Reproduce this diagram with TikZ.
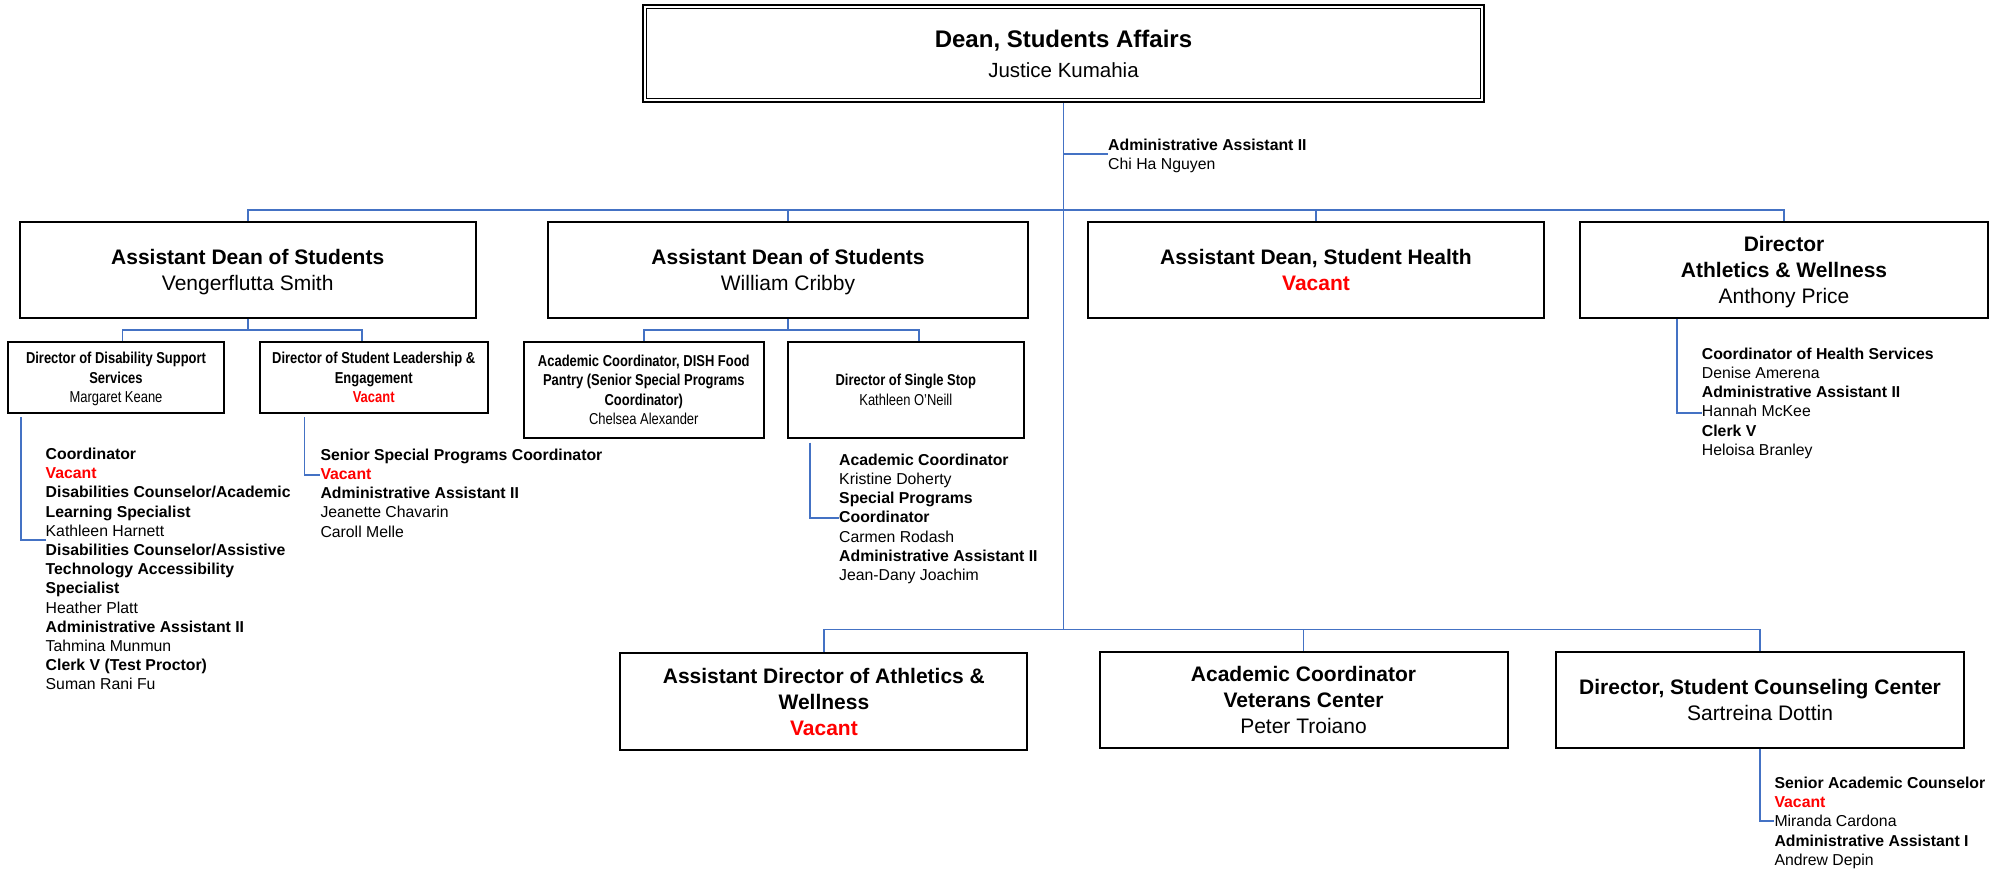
\documentclass[tikz,border=0pt]{standalone}
\usepackage{fontspec}
\setmainfont{Liberation Sans}
\newfontfamily\narrowfont[FakeStretch=0.82]{Liberation Sans}
\definecolor{conncol}{HTML}{4472C4}
\definecolor{vred}{HTML}{FF0000}
\tikzset{
 box/.style={draw=black, line width=2pt, rectangle, align=center, inner sep=0pt, font={\fontsize{21}{26}\selectfont}},
 smallbox/.style={draw=black, line width=2pt, rectangle, align=center, inner sep=0pt, font={\narrowfont\fontsize{15.8}{19.3}\selectfont}},
 stafflist/.style={anchor=north west, align=left, inner sep=0pt, font={\fontsize{15.8}{19.2}\selectfont}},
 conn/.style={draw=conncol, line width=1.7pt},
}
\newcommand{\vac}{\textcolor{vred}{\textbf{Vacant}}}
\begin{document}
\begin{tikzpicture}[x=1pt,y=-1pt]
\useasboundingbox[fill=white] (0,0) rectangle (2007,871);

% Dean
\node[box, line width=1.8pt, minimum width=841pt, minimum height=97pt, font={\fontsize{24}{30}\selectfont}] (dean) at (1063.5,53.5)
 {\textbf{Dean, Students Affairs}\\{\fontsize{20.5}{30}\selectfont Justice Kumahia}};
\draw[line width=1pt] ([shift={(4.5,4.5)}]dean.north west) rectangle ([shift={(-4.5,-4.5)}]dean.south east);

% Row 1
\node[box, minimum width=456pt, minimum height=96pt] (A1) at (247.7,269.7)
 {\textbf{Assistant Dean of Students}\\\smash{Vengerflutta Smith}};
\node[box, minimum width=480pt, minimum height=96pt] (A2) at (788,269.7)
 {\textbf{Assistant Dean of Students}\\\smash{William Cribby}};
\node[box, minimum width=456pt, minimum height=96pt] (A3) at (1316,269.7)
 {\textbf{Assistant Dean, Student Health}\\\vac};
\node[box, minimum width=408pt, minimum height=96pt] (A4) at (1784,269.7)
 {\textbf{Director}\\\textbf{Athletics \& Wellness}\\\smash{Anthony Price}};

% Row 2 small boxes
\node[smallbox, minimum width=216pt, minimum height=71.3pt] (B1) at (116,377.4)
 {\textbf{Director of Disability Support}\\\textbf{Services}\\\smash{Margaret Keane}};
\node[smallbox, minimum width=227.7pt, minimum height=71.3pt] (B2) at (373.7,377.4)
 {\textbf{Director of Student Leadership \&}\\\textbf{Engagement}\\\vac};
\node[smallbox, minimum width=240.4pt, minimum height=95.7pt] (C1) at (643.8,389.9)
 {\textbf{Academic Coordinator, DISH Food}\\\textbf{Pantry (Senior Special Programs}\\\textbf{Coordinator)}\\Chelsea Alexander};
\node[smallbox, minimum width=235.6pt, minimum height=95.7pt] (C2) at (905.8,389.9)
 {\textbf{Director of Single Stop}\\Kathleen O’Neill};

% Bottom row
\node[box, minimum width=407pt, minimum height=96.7pt] (D1) at (823.9,701.7)
 {\textbf{Assistant Director of Athletics \&}\\\textbf{Wellness}\\\vac};
\node[box, minimum width=408pt, minimum height=96pt] (D2) at (1303.5,699.7)
 {\textbf{Academic Coordinator}\\\textbf{Veterans Center}\\Peter Troiano};
\node[box, minimum width=408.6pt, minimum height=96pt] (D3) at (1760,699.7)
 {\textbf{Director, Student Counseling Center}\\Sartreina Dottin};

% Staff lists
\node[stafflist] (L0) at (1108,136.6)
 {\strut\textbf{Administrative Assistant II}\\Chi Ha Nguyen};
\node[stafflist] (L1) at (45.5,445.9)
 {\strut\textbf{Coordinator}\\\vac\\\textbf{Disabilities Counselor/Academic}\\\textbf{Learning Specialist}\\Kathleen Harnett\\\textbf{Disabilities Counselor/Assistive}\\\textbf{Technology Accessibility}\\\textbf{Specialist}\\Heather Platt\\\textbf{Administrative Assistant II}\\Tahmina Munmun\\\textbf{Clerk V (Test Proctor)}\\Suman Rani Fu};
\node[stafflist] (L2) at (320.3,446.6)
 {\strut\textbf{Senior Special Programs Coordinator}\\\vac\\\textbf{Administrative Assistant II}\\Jeanette Chavarin\\Caroll Melle};
\node[stafflist] (L3) at (839,451.6)
 {\strut\textbf{Academic Coordinator}\\Kristine Doherty\\\textbf{Special Programs}\\\textbf{Coordinator}\\Carmen Rodash\\\textbf{Administrative Assistant II}\\Jean-Dany Joachim};
\node[stafflist] (L4) at (1701.7,345.6)
 {\strut\textbf{Coordinator of Health Services}\\Denise Amerena\\\textbf{Administrative Assistant II}\\Hannah McKee\\\textbf{Clerk V}\\Heloisa Branley};
\node[stafflist] (L5) at (1774.3,774.9)
 {\strut\textbf{Senior Academic Counselor}\\\vac\\Miranda Cardona\\\textbf{Administrative Assistant I}\\Andrew Depin};

% Connectors: main structure
\coordinate (busT) at (1063.5,210);
\coordinate (busB) at (1063.5,629.5);
\draw[conn] (dean.south) -- (busB);
\draw[conn] (A1.north) |- (busT) -| (A4.north);
\draw[conn] (A2.north) -- (A2.north |- busT);
\draw[conn] (A3.north) -- (A3.north |- busT);
\draw[conn] (D1.north) |- (busB) -| (D3.north);
\draw[conn] (D2.north) -- (D2.north |- busB);

% Sub-branches
\coordinate (jA1) at (247.7,330);
\draw[conn] (A1.south) -- (jA1);
\draw[conn] ([xshift=6.6pt]B1.north) |- (jA1) -| ([xshift=-11.9pt]B2.north);
\coordinate (jA2) at (788,330);
\draw[conn] (A2.south) -- (jA2);
\draw[conn] (C1.north) |- (jA2) -| ([xshift=13.5pt]C2.north);

% Brackets to staff lists
\coordinate (k0) at (1063.5,154);
\draw[conn] (k0) -- (k0 -| L0.west);
\coordinate (k1a) at (21,417);
\coordinate (k1b) at (21,540);
\draw[conn] (k1a) |- (L1.west |- k1b);
\coordinate (k2a) at (304.5,417);
\coordinate (k2b) at (304.5,475);
\draw[conn] (k2a) |- (L2.west |- k2b);
\coordinate (k3a) at (810,442.7);
\coordinate (k3b) at (810,518);
\draw[conn] (k3a) |- (L3.west |- k3b);
\coordinate (k4) at (1677,413.3);
\draw[conn] (A4.south -| k4) |- (L4.west |- k4);
\coordinate (k5) at (1760,821);
\draw[conn] (D3.south) |- (L5.west |- k5);
\end{tikzpicture}
\end{document}
